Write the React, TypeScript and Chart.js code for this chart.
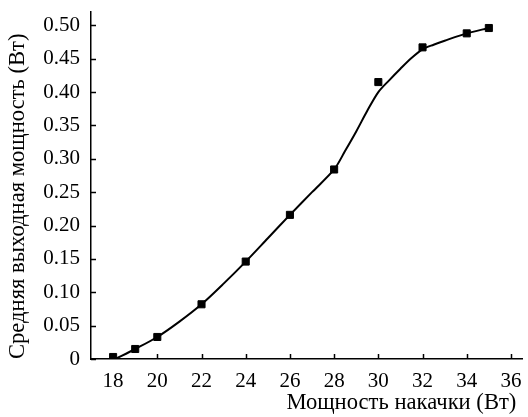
import React, { useEffect, useRef } from "react";
import { Chart, registerables } from "chart.js";

Chart.register(...registerables);

// Measured points (square markers)
const pumpPower = [18, 19, 20, 22, 24, 26, 28, 30, 32, 34, 35];
const outputPower = [0.003, 0.015, 0.033, 0.082, 0.146, 0.216, 0.284, 0.415, 0.467, 0.488, 0.496];

// Fitted curve
const curveX = [18.1, 19, 20, 21, 22, 23, 24, 25, 26, 27, 28, 28.5, 29, 29.5, 30, 30.5, 31, 31.5, 32, 32.5, 33, 34, 35];
const curveY = [0.0, 0.015, 0.033, 0.056, 0.082, 0.113, 0.146, 0.181, 0.216, 0.25, 0.284, 0.312, 0.341, 0.372, 0.4, 0.418, 0.435, 0.451, 0.464, 0.471, 0.477, 0.488, 0.496];

const xTicks = [18, 20, 22, 24, 26, 28, 30, 32, 34, 36];
const yTicks = [0, 0.05, 0.1, 0.15, 0.2, 0.25, 0.3, 0.35, 0.4, 0.45, 0.5];

const xTitle = "Мощность накачки (Вт)";
const yTitle = "Средняя выходная мощность (Вт)";

const FONT = "'Liberation Serif', 'Times New Roman', serif";
const FS = 21;
const TFS = 22.6;

const inwardTicks = {
  id: "inwardTicks",
  afterDraw(chart: any) {
    const { ctx, chartArea } = chart;
    const xs = chart.scales.x;
    const ys = chart.scales.y;
    ctx.save();
    ctx.strokeStyle = "#000";
    ctx.lineWidth = 1.5;
    const len = 5;
    xs.ticks.forEach((t: any) => {
      const px = Math.round(xs.getPixelForValue(t.value)) + 0.5;
      ctx.beginPath();
      ctx.moveTo(px, chartArea.bottom);
      ctx.lineTo(px, chartArea.bottom - len);
      ctx.stroke();
    });
    ys.ticks.forEach((t: any) => {
      const py = Math.round(ys.getPixelForValue(t.value)) + 0.5;
      ctx.beginPath();
      ctx.moveTo(chartArea.left, py);
      ctx.lineTo(chartArea.left + len, py);
      ctx.stroke();
    });
    ctx.restore();
  },
};

export default function App() {
  const ref = useRef<HTMLCanvasElement | null>(null);
  useEffect(() => {
    if (!ref.current) return;
    const chart = new Chart(ref.current, {
      type: "scatter",
      data: {
        datasets: [
          {
            label: "curve",
            data: curveX.map((x, i) => ({ x, y: curveY[i] })),
            showLine: true,
            borderColor: "#000",
            borderWidth: 2,
            pointRadius: 0,
            tension: 0.3,
            fill: false,
          },
          {
            label: "points",
            data: pumpPower.map((x, i) => ({ x, y: outputPower[i] })),
            showLine: false,
            pointStyle: "rect",
            pointRadius: 5,
            pointBackgroundColor: "#000",
            pointBorderColor: "#000",
            pointBorderWidth: 1,
          },
        ],
      },
      options: {
        animation: false,
        responsive: true,
        maintainAspectRatio: false,
        layout: { padding: { left: 0, right: 1, top: 12, bottom: 0 } },
        plugins: {
          legend: { display: false },
          tooltip: { enabled: false },
        },
        scales: {
          x: {
            type: "linear",
            min: 17,
            max: 36.5,
            afterBuildTicks: (s: any) => {
              s.ticks = xTicks.map((v) => ({ value: v }));
            },
            afterFit: (s: any) => {
              s.height = 58;
              s.paddingLeft = 0;
              s.paddingRight = 0;
            },
            grid: { display: false, drawTicks: false },
            border: { display: true, color: "#000", width: 1.5 },
            ticks: {
              color: "#000",
              font: { family: FONT, size: FS },
              padding: 10,
              maxRotation: 0,
              callback: (v: any) => String(v),
            },
            title: {
              display: true,
              text: xTitle + "\u00A0",
              align: "end",
              color: "#000",
              font: { family: FONT, size: TFS },
              padding: { top: 0, bottom: 0 },
            },
          },
          y: {
            type: "linear",
            min: 0,
            max: 0.52,
            afterBuildTicks: (s: any) => {
              s.ticks = yTicks.map((v) => ({ value: v }));
            },
            afterFit: (s: any) => {
              s.width = 91;
              s.paddingTop = 0;
              s.paddingBottom = 0;
            },
            grid: { display: false, drawTicks: false },
            border: { display: true, color: "#000", width: 1.5 },
            ticks: {
              color: "#000",
              font: { family: FONT, size: FS },
              padding: 11,
              callback: (v: any) => (v === 0 ? "0" : Number(v).toFixed(2)),
            },
            title: {
              display: true,
              text: yTitle,
              align: "start",
              color: "#000",
              font: { family: FONT, size: TFS },
              padding: { top: 5, bottom: 0 },
            },
          },
        },
      },
      plugins: [inwardTicks],
    } as any);
    return () => chart.destroy();
  }, []);
  return (
    <div style={{ position: "fixed", left: 0, top: 0, width: 528, height: 417, background: "#fff" }}>
      <canvas ref={ref} />
    </div>
  );
}
